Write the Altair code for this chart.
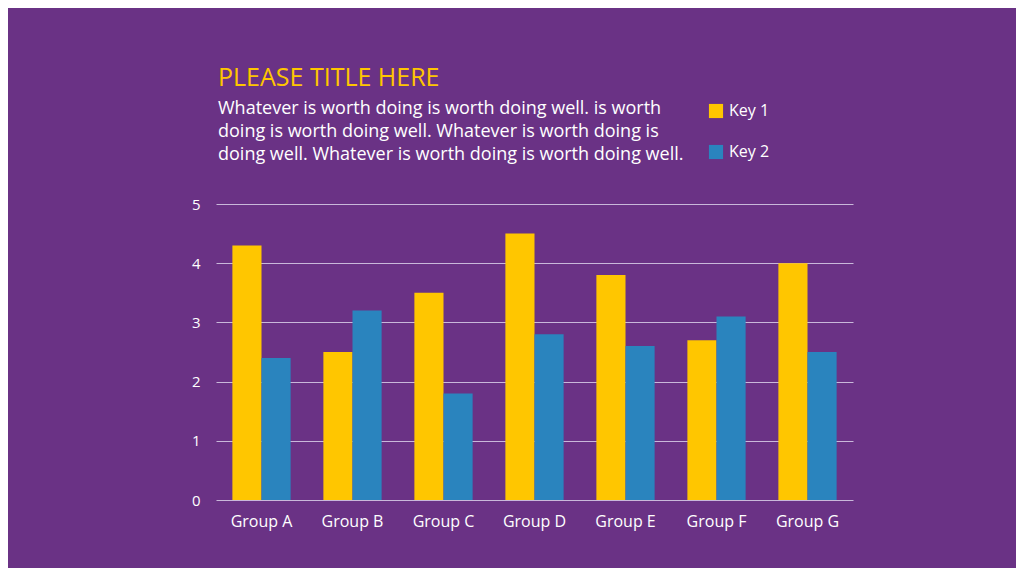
import altair as alt
import pandas as pd

groups = ["Group A", "Group B", "Group C", "Group D", "Group E", "Group F", "Group G"]
key1 = [4.3, 2.5, 3.5, 4.5, 3.8, 2.7, 4.0]
key2 = [2.4, 3.2, 1.8, 2.8, 2.6, 3.1, 2.5]
keys = ["Key 1", "Key 2"]
colors = ["#FFC600", "#2A84BE"]

title_text = "PLEASE TITLE HERE"
subtitle_lines = [
    "Whatever is worth doing is worth doing well. is worth",
    "doing is worth doing well. Whatever is worth doing is",
    "doing well. Whatever is worth doing is worth doing well.",
]

rows = []
for g, a, b in zip(groups, key1, key2):
    rows.append({"group": g, "key": keys[0], "value": a})
    rows.append({"group": g, "key": keys[1], "value": b})
df = pd.DataFrame(rows)

BG = "#6A3285"
FONT = "Open Sans"

chart = alt.Chart(df).mark_bar().encode(
    x=alt.X("group:N", sort=groups, title=None,
            scale=alt.Scale(paddingInner=0.36, paddingOuter=0.18),
            axis=alt.Axis(labelAngle=0, labelColor="white", labelFontSize=16,
                          labelFont=FONT, domain=False, ticks=False, grid=False,
                          labelPadding=13)),
    xOffset=alt.XOffset("key:N", sort=keys),
    y=alt.Y("value:Q", title=None, scale=alt.Scale(domain=[0, 5]),
            axis=alt.Axis(values=[0, 1, 2, 3, 4, 5], labelColor="white", labelFontSize=15,
                          labelFont=FONT, domain=False, ticks=False, labelPadding=16,
                          grid=True, gridColor="#C9B8DA", gridWidth=1, gridOpacity=1)),
    color=alt.Color("key:N", sort=keys,
                    scale=alt.Scale(domain=keys, range=colors),
                    legend=alt.Legend(title=None, orient="none", legendX=492, legendY=-101,
                                      symbolType="square", symbolSize=200, symbolStrokeWidth=0,
                                      labelColor="white", labelFontSize=16, labelFont=FONT,
                                      rowPadding=25, labelOffset=5)),
).properties(
    width=637,
    height=296,
    padding={"left": 208, "top": 196, "right": 163, "bottom": 68},
    autosize=alt.AutoSizeParams(type="none"),
    background=BG,
    title=alt.TitleParams(
        text=title_text, subtitle=subtitle_lines, anchor="start", frame="group",
        color="#FFC600", fontSize=25, font=FONT, fontWeight="normal",
        subtitleColor="white", subtitleFontSize=18, subtitleFont=FONT,
        subtitleLineHeight=23, subtitlePadding=9, offset=-61, dx=2,
    ),
).configure_view(stroke=None)

chart.save("out.html", embed_options={"renderer": "svg", "actions": False})
